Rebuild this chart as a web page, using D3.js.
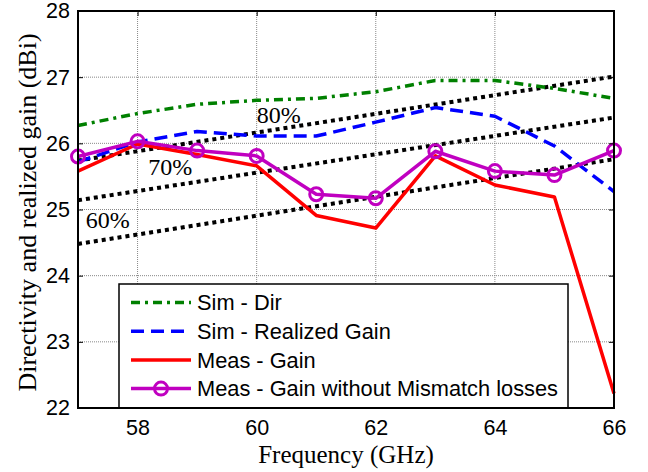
<!DOCTYPE html>
<html><head><meta charset="utf-8">
<script src="https://cdn.jsdelivr.net/npm/d3@7"></script>
<style>body{margin:0;background:#fff}svg{display:block}</style>
</head><body><svg id="c" width="648" height="472"></svg>
<script>
const freqs = [57,58,59,60,61,62,63,64,65,66];
const simDir = [26.27,26.45,26.59,26.65,26.68,26.78,26.95,26.95,26.83,26.68];
const simRealized = [25.72,26.02,26.18,26.11,26.11,26.32,26.54,26.41,25.96,25.27];
const measGain = [25.58,25.99,25.83,25.66,24.91,24.72,25.81,25.37,25.19,22.22];
const measNoMismatch = [25.80,26.03,25.89,25.81,25.23,25.17,25.88,25.58,25.52,25.89];
const effFreqs = [57,66];
const eff80 = [25.74,27.01];
const eff70 = [25.14,26.39];
const eff60 = [24.48,25.76];
const effLabels = ["80%","70%","60%"];
const effLabelX = [60.0,58.18,57.13];
const effLabelY = [26.30,25.52,24.72];
const xTicks = [58,60,62,64,66];
const yTicks = [22,23,24,25,26,27,28];
const legendNames = ["Sim - Dir","Sim - Realized Gain","Meas - Gain","Meas - Gain without Mismatch losses"];

const svg = d3.select("#c");
const L=78,R=614,T=11,B=408;
const x = d3.scaleLinear().domain([57,66]).range([L,R]);
const y = d3.scaleLinear().domain([22,28]).range([B,T]);

// grid
const g = svg.append("g");
g.selectAll(".gx").data(xTicks).enter().append("line")
 .attr("x1",d=>x(d)).attr("x2",d=>x(d)).attr("y1",T).attr("y2",B)
 .attr("stroke","#888").attr("stroke-width",1).attr("stroke-dasharray","1,1");
g.selectAll(".gy").data(yTicks).enter().append("line")
 .attr("y1",d=>y(d)).attr("y2",d=>y(d)).attr("x1",L).attr("x2",R)
 .attr("stroke","#888").attr("stroke-width",1).attr("stroke-dasharray","1,1");

const line = d3.line().x(d=>x(d[0])).y(d=>y(d[1]));
const zip = (a,b)=>a.map((v,i)=>[v,b[i]]);

// efficiency lines
[eff80,eff70,eff60].forEach(e=>{
  svg.append("path").attr("d",line(zip(effFreqs,e))).attr("fill","none")
   .attr("stroke","#000").attr("stroke-width",4).attr("stroke-dasharray","4,4");
});
effLabels.forEach((t,i)=>{
  svg.append("text").attr("x",x(effLabelX[i])).attr("y",y(effLabelY[i]))
   .attr("font-family","Liberation Serif, Times New Roman, serif").attr("font-size",24)
   .attr("fill","#000").text(t);
});

const series = [
 {v:simDir,c:"#008000",dash:"9,5,3,5",w:3.5},
 {v:simRealized,c:"#0000ff",dash:"13,7",w:3.5},
 {v:measGain,c:"#ff0000",dash:null,w:3.5},
 {v:measNoMismatch,c:"#c000c0",dash:null,w:3.5,marker:true}
];
series.forEach(s=>{
  const p = svg.append("path").attr("d",line(zip(freqs,s.v))).attr("fill","none")
   .attr("stroke",s.c).attr("stroke-width",s.w).attr("stroke-linejoin","round");
  if(s.dash) p.attr("stroke-dasharray",s.dash);
  if(s.marker){
    svg.selectAll(null).data(zip(freqs,s.v)).enter().append("circle")
     .attr("cx",d=>x(d[0])).attr("cy",d=>y(d[1])).attr("r",6.5)
     .attr("fill","none").attr("stroke",s.c).attr("stroke-width",3);
  }
});

// axes box & ticks
const axB = d3.axisBottom(x).tickValues(xTicks).tickSize(-5).tickPadding(12).tickFormat(d3.format("d"));
const axL = d3.axisLeft(y).tickValues(yTicks).tickSize(-5).tickPadding(8).tickFormat(d3.format("d"));
const axT = d3.axisTop(x).tickValues(xTicks).tickSize(-5).tickFormat("");
const axR = d3.axisRight(y).tickValues(yTicks).tickSize(-5).tickFormat("");
function style(sel){
  sel.select(".domain").remove();
  sel.selectAll("line").attr("stroke","#000").attr("stroke-width",1);
  sel.selectAll("text").attr("font-family","Liberation Sans, Arial, sans-serif").attr("font-size",21.5).attr("fill","#000");
}
svg.append("g").attr("transform",`translate(0,${B})`).call(axB).call(style);
svg.append("g").attr("transform",`translate(${L},0)`).call(axL).call(style);
svg.append("g").attr("transform",`translate(0,${T})`).call(axT).call(style);
svg.append("g").attr("transform",`translate(${R},0)`).call(axR).call(style);

// legend
const lg = svg.append("g");
lg.append("rect").attr("x",119).attr("y",284).attr("width",449).attr("height",B-284)
  .attr("fill","#fff").attr("stroke","#000").attr("stroke-width",1.5);
series.forEach((s,i)=>{
  const yy = 302.5 + i*28.7;
  const l = lg.append("line").attr("x1",131).attr("x2",191).attr("y1",yy).attr("y2",yy)
    .attr("stroke",s.c).attr("stroke-width",s.w);
  if(s.dash) l.attr("stroke-dasharray",s.dash);
  if(s.marker) lg.append("circle").attr("cx",161).attr("cy",yy).attr("r",6.5)
    .attr("fill","none").attr("stroke",s.c).attr("stroke-width",3);
  lg.append("text").attr("x",197).attr("y",yy).attr("dy","0.36em")
    .attr("font-family","Liberation Sans, Arial, sans-serif").attr("font-size",21.8)
    .attr("fill","#000").text(legendNames[i]);
});

svg.append("rect").attr("x",L).attr("y",T).attr("width",R-L).attr("height",B-T)
  .attr("fill","none").attr("stroke","#000").attr("stroke-width",2);

svg.append("text").attr("x",(L+R)/2).attr("y",463).attr("text-anchor","middle")
  .attr("font-family","Liberation Serif, Times New Roman, serif").attr("font-size",25)
  .text("Frequency (GHz)");
svg.append("text").attr("transform",`translate(36,${(T+B)/2+3}) rotate(-90)`).attr("text-anchor","middle")
  .attr("font-family","Liberation Serif, Times New Roman, serif").attr("font-size",26)
  .text("Directivity and realized gain (dBi)");
</script></body></html>
